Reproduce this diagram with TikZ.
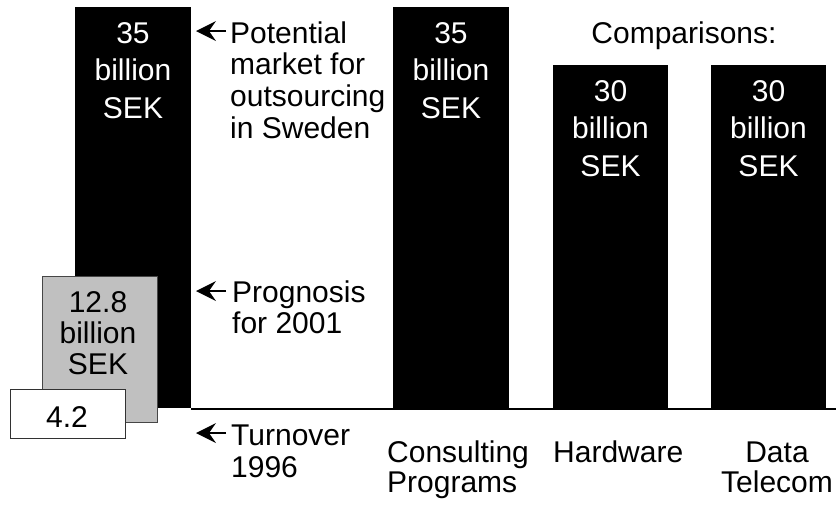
\documentclass[tikz,border=0pt]{standalone}
\usepackage{fontspec}
\setmainfont{Liberation Sans}
\newcommand\cstack[2]{\vtop{\baselineskip=#1pt\lineskip=0pt\lineskiplimit=-1000pt\halign{\hfil##\hfil\cr#2\crcr}}}
\newcommand\lstack[2]{\vtop{\baselineskip=#1pt\lineskip=0pt\lineskiplimit=-1000pt\halign{##\hfil\cr#2\crcr}}}
\newcommand\headat[1]{\fill (#1) -- ([shift={(20,-10)}]#1) -- ([shift={(13,0)}]#1) -- ([shift={(20,10)}]#1) -- cycle;}
\tikzset{
  x=1pt, y=-1pt,
  bar/.style={fill=black, draw=none},
  lbl/.style={inner sep=0pt, anchor=base, font=\fontsize{30}{31}\selectfont},
  wlbl/.style={lbl, text=white},
  shaft/.style={line width=2.8pt},
}
\begin{document}
\begin{tikzpicture}
\useasboundingbox (0,0) rectangle (836,504);
% bars
\path[bar] (75,7) rectangle (191,408);
\path[bar] (393,7) rectangle (509,408);
\path[bar] (553,65) rectangle (668,408);
\path[bar] (711,65) rectangle (826,408);
% prognosis and turnover boxes
\path[fill={rgb,255:red,192;green,192;blue,192}, draw={rgb,255:red,70;green,70;blue,70}, line width=0.8pt] (42,276) rectangle (157,422);
\path[fill=white, draw={rgb,255:red,50;green,50;blue,50}, line width=0.8pt] (10,389) rectangle (125,438);
% baseline
\coordinate (b0) at (191,409);
\coordinate (b1) at (836,409);
\draw[line width=2.8pt] (b0) -- (b1);
% bar texts
\node[wlbl] (t1) at (133,43) {\cstack{37.5}{35\cr billion\cr SEK}};
\node[wlbl] (t2) at (451,43) {\cstack{37.5}{35\cr billion\cr SEK}};
\node[wlbl] (t3) at (610.5,101) {\cstack{37.5}{30\cr billion\cr SEK}};
\node[wlbl] (t4) at (768.5,101) {\cstack{37.5}{30\cr billion\cr SEK}};
\node[lbl] (gt) at (98,312) {\cstack{31}{12.8\cr billion\cr SEK}};
\node[lbl] (wt) at (67,427) {4.2};
\node[lbl] (cmp) at (684,43) {Comparisons:};
% annotations
\node[lbl, anchor=base west] (pot) at (230,43) {\lstack{31.7}{Potential\cr market for\cr outsourcing\cr in Sweden}};
\node[lbl, anchor=base west] (prog) at (232,302) {\lstack{31}{Prognosis\cr for 2001}};
\node[lbl, anchor=base west] (turn) at (231,445) {\lstack{32}{Turnover\cr 1996}};
\coordinate (a1s) at (226,31);  \coordinate (a1e) at (196,31);
\coordinate (a2s) at (226,291); \coordinate (a2e) at (196,291);
\coordinate (a3s) at (226,433); \coordinate (a3e) at (196,433);
\draw[shaft] (a1s) -- ([xshift=12pt]a1e);
\draw[shaft] (a2s) -- ([xshift=12pt]a2e);
\draw[shaft] (a3s) -- ([xshift=12pt]a3e);
\headat{a1e}
\headat{a2e}
\headat{a3e}
% category labels
\node[lbl, anchor=base west] (c1) at (387,462) {\lstack{30}{Consulting\cr Programs}};
\node[lbl, anchor=base west] (c2) at (553,462) {Hardware};
\node[lbl] (c3) at (777,462) {\cstack{30}{Data\cr Telecom}};
\end{tikzpicture}
\end{document}
